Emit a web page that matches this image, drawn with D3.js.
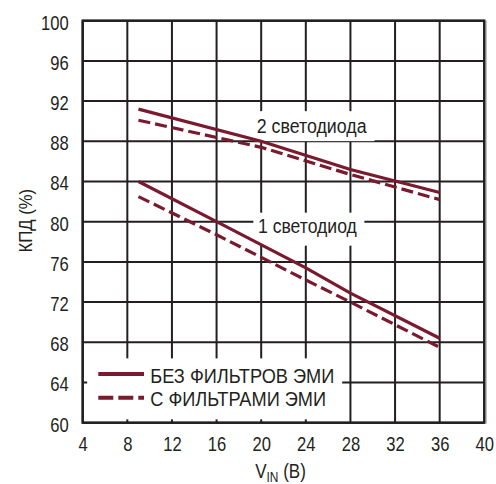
<!DOCTYPE html>
<html><head><meta charset="utf-8">
<script src="https://cdn.jsdelivr.net/npm/d3@7"></script>
<style>
html,body{margin:0;padding:0;background:#fff;}
svg{display:block;}
text{font-family:"Liberation Sans Narrow","Arial Narrow","Liberation Sans",Arial,sans-serif;fill:#231f20;}
</style></head>
<body>
<svg id="chart" width="496" height="484"></svg>
<script>
// Data
const xTicks = [4, 8, 12, 16, 20, 24, 28, 32, 36, 40];
const yTicks = [60, 64, 68, 72, 76, 80, 84, 88, 92, 96, 100];

const vin2 = [9, 20, 28, 36];
const led2NoFilter = [91.2, 88.0, 85.2, 82.9];
const led2Filter   = [90.1, 87.4, 84.7, 82.2];

const vin1 = [9, 16, 24, 28, 36];
const led1NoFilter = [84.0, 80.0, 75.4, 72.9, 68.4];
const led1Filter   = [82.5, 78.7, 74.2, 72.0, 67.5];

const legendLabels = ["БЕЗ ФИЛЬТРОВ ЭМИ", "С ФИЛЬТРАМИ ЭМИ"];
const curveLabels = ["2 светодиода", "1 светодиод"];

const W = 496, H = 484;
const m = {left: 82.7, right: 11.7, top: 20.7, bottom: 61.3};
const iw = W - m.left - m.right, ih = H - m.top - m.bottom;
const color = "#7a1a2e";
const gridColor = "#231f20";

const svg = d3.select("#chart");
const g = svg.append("g").attr("transform", `translate(${m.left},${m.top})`);

const x = d3.scaleLinear().domain([4, 40]).range([0, iw]);
const y = d3.scaleLinear().domain([60, 100]).range([ih, 0]);

// condensed text helper
function ctext(parent, tx, ty, k, size, str, anchor) {
  const gg = parent.append("g").attr("transform", `translate(${tx},${ty}) scale(${k},1)`);
  return gg.append("text").attr("font-size", size).attr("text-anchor", anchor || "start").text(str);
}

// grid
g.append("g").selectAll("line").data(xTicks).join("line")
  .attr("x1", d => x(d)).attr("x2", d => x(d)).attr("y1", 0).attr("y2", ih)
  .attr("stroke", gridColor).attr("stroke-width", 2);
g.append("g").selectAll("line").data(yTicks).join("line")
  .attr("x1", 0).attr("x2", iw).attr("y1", d => y(d)).attr("y2", d => y(d))
  .attr("stroke", gridColor).attr("stroke-width", 2);

// white boxes behind labels / legend
g.append("rect").attr("x", x(19.4)).attr("y", y(91.0)).attr("width", 120).attr("height", 30).attr("fill", "#fff");
g.append("rect").attr("x", x(19.3)).attr("y", y(80.9)).attr("width", 111).attr("height", 33).attr("fill", "#fff");
g.append("rect").attr("x", x(4.4)).attr("y", y(66.4)).attr("width", 255).attr("height", 61).attr("fill", "#fff");

// border
g.append("rect").attr("x", 0).attr("y", 0).attr("width", iw).attr("height", ih)
  .attr("fill", "none").attr("stroke", gridColor).attr("stroke-width", 2.4);
g.append("line").attr("x1", iw + 1.8).attr("x2", iw + 1.8).attr("y1", 0).attr("y2", ih + 1)
  .attr("stroke", "#999").attr("stroke-width", 1);

// axes (labels only)
const kt = 0.83;
const xAxis = g.append("g").attr("transform", `translate(0,${ih})`)
  .call(d3.axisBottom(x).tickValues(xTicks).tickSize(0).tickPadding(14).tickFormat(d3.format("d")));
xAxis.select(".domain").remove();
xAxis.selectAll("text").attr("font-size", 20).attr("fill", "#231f20").attr("transform", `scale(${kt},1)`);

const yAxis = g.append("g")
  .call(d3.axisLeft(y).tickValues(yTicks).tickSize(0).tickPadding(14 / kt).tickFormat(d3.format("d")));
yAxis.select(".domain").remove();
yAxis.selectAll("text").attr("font-size", 20).attr("dy", "0.42em").attr("fill", "#231f20").attr("transform", `scale(${kt},1)`);

// lines
const line = d3.line().x(d => x(d[0])).y(d => y(d[1]));
const series = [
  {xs: vin2, ys: led2NoFilter, dash: null},
  {xs: vin2, ys: led2Filter, dash: "12,5"},
  {xs: vin1, ys: led1NoFilter, dash: null},
  {xs: vin1, ys: led1Filter, dash: "12,5"}
];
series.forEach(s => {
  g.append("path").datum(s.xs.map((v, i) => [v, s.ys[i]]))
    .attr("d", line).attr("fill", "none").attr("stroke", color)
    .attr("stroke-width", 3.2).attr("stroke-dasharray", s.dash);
});

// curve labels
ctext(g, 256.7 - m.left, 112, 0.89, 20, curveLabels[0]);
ctext(g, 258 - m.left, 212.5, 0.88, 20, curveLabels[1]);

// legend
const lg = g.append("g");
[0, 1].forEach(i => {
  const yy = 353.3 + i * 23.7;
  lg.append("line").attr("x1", 15.6).attr("x2", 61.3).attr("y1", yy).attr("y2", yy)
    .attr("stroke", color).attr("stroke-width", 4).attr("stroke-dasharray", i ? "15,5" : null);
  ctext(lg, 67.5, yy + 8.7, 0.91, 20, legendLabels[i]);
});

// axis titles
const xt = ctext(svg, 280.5, 478, 0.85, 20, "", "middle");
xt.append("tspan").text("V");
xt.append("tspan").attr("font-size", 14).attr("dy", 4).text("IN");
xt.append("tspan").attr("dy", -4).text(" (В)");

const yt = svg.append("g").attr("transform", `translate(31.5,${m.top + ih / 2 - 1}) rotate(-90) scale(0.88,1)`);
yt.append("text").attr("text-anchor", "middle").attr("font-size", 19).text("КПД (%)");
</script>
</body></html>
